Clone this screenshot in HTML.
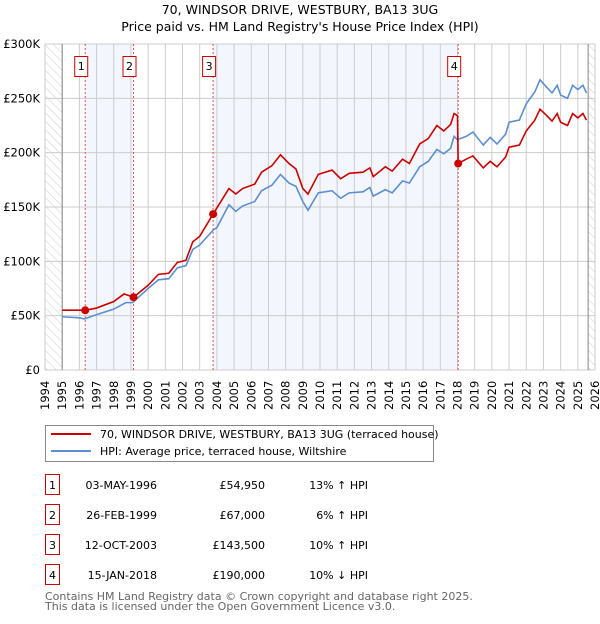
<!DOCTYPE html>
<html><head><meta charset="utf-8"><style>
body{margin:0;background:#fff;font-family:"DejaVu Sans","Liberation Sans",sans-serif;}
svg text{font-family:"DejaVu Sans","Liberation Sans",sans-serif;}
</style></head><body>
<svg id="chart" width="600" height="620" viewBox="0 0 600 620" xmlns="http://www.w3.org/2000/svg">
<defs><pattern id="hatch" width="6" height="6" patternUnits="userSpaceOnUse" patternTransform="rotate(-45)"><line x1="0" y1="0" x2="0" y2="6" stroke="#ccc" stroke-width="1"/></pattern></defs>
<text x="300" y="14" text-anchor="middle" font-size="12.5">70, WINDSOR DRIVE, WESTBURY, BA13 3UG</text>
<text x="300" y="31" text-anchor="middle" font-size="12.5">Price paid vs. HM Land Registry's House Price Index (HPI)</text>
<g id="plot"></g>
<g>
<rect x="45.5" y="425.5" width="388" height="36" fill="#fff" stroke="#888"/>
<line x1="51" y1="434" x2="91" y2="434" stroke="#cc0000" stroke-width="2"/>
<text x="100" y="438" font-size="11">70, WINDSOR DRIVE, WESTBURY, BA13 3UG (terraced house)</text>
<line x1="51" y1="451" x2="91" y2="451" stroke="#5b8fd0" stroke-width="2"/>
<text x="100" y="455" font-size="11">HPI: Average price, terraced house, Wiltshire</text>
</g>
<g id="table"></g>
<text x="45" y="600" font-size="11" fill="#666">Contains HM Land Registry data © Crown copyright and database right 2025.</text>
<text x="45" y="610" font-size="11" fill="#666">This data is licensed under the Open Government Licence v3.0.</text>
</svg>
<script>
const hpiYears=[1995,1996,1996.3,1997,1998,1998.7,1999.1,2000,2000.6,2001.2,2001.7,2002.2,2002.6,2003,2003.8,2004,2004.7,2005.1,2005.5,2006.2,2006.6,2007.2,2007.7,2008.2,2008.6,2009,2009.3,2009.9,2010.7,2011.2,2011.7,2012.5,2012.9,2013.1,2013.8,2014.2,2014.8,2015.2,2015.8,2016.3,2016.8,2017.2,2017.6,2017.8,2018,2018.5,2018.9,2019.5,2019.9,2020.3,2020.8,2021,2021.6,2022,2022.5,2022.8,2023.2,2023.5,2023.8,2024,2024.4,2024.7,2025,2025.3,2025.5];
const hpiValues=[49,48,47,51,56,62,62,75,83,84,94,96,111,115,129,131,152,146,151,155,165,170,180,172,169,155,147,163,165,158,163,164,168,160,166,163,174,172,187,192,203,199,204,215,212,215,219,207,214,208,217,228,230,245,256,267,260,255,262,253,250,262,258,262,255];
const priceYears=[1995,1996,1996.34,1997,1998,1998.6,1999.15,2000,2000.6,2001.2,2001.7,2002.2,2002.6,2003,2003.78,2004.7,2005.1,2005.5,2006.2,2006.6,2007.2,2007.7,2008.2,2008.6,2009,2009.3,2009.9,2010.7,2011.2,2011.7,2012.5,2012.9,2013.1,2013.8,2014.2,2014.8,2015.2,2015.8,2016.3,2016.8,2017.2,2017.6,2017.8,2018,2018.04,2018.5,2018.9,2019.5,2019.9,2020.3,2020.8,2021,2021.6,2022,2022.5,2022.8,2023.2,2023.5,2023.8,2024,2024.4,2024.7,2025,2025.3,2025.5];
const priceValues=[55,55,54.95,57,63,70,67,78,88,89,99,101,118,123,143.5,167,162,167,171,182,188,198,190,185,167,162,180,184,176,181,182,186,178,187,183,194,190,208,213,225,220,226,236,234,190,194,197,186,192,187,196,205,207,220,230,240,234,229,236,228,225,236,232,236,230];
const saleLabels=["1","2","3","4"];
const saleYears=[1996.34,1999.15,2003.78,2018.04];
const salePrices=[54.95,67,143.5,190];
const saleDates=["03-MAY-1996","26-FEB-1999","12-OCT-2003","15-JAN-2018"];
const salePriceText=["£54,950","£67,000","£143,500","£190,000"];
const saleHpiText=["13% ↑ HPI","6% ↑ HPI","10% ↑ HPI","10% ↓ HPI"];
const yTicks=[0,50,100,150,200,250,300];
const yTickLabels=["£0","£50K","£100K","£150K","£200K","£250K","£300K"];
const xTicks=[1994,1995,1996,1997,1998,1999,2000,2001,2002,2003,2004,2005,2006,2007,2008,2009,2010,2011,2012,2013,2014,2015,2016,2017,2018,2019,2020,2021,2022,2023,2024,2025,2026];
const L=45,R=595,T=44,B=370;
const x=v=>L+(v-1994)*(R-L)/32;
const y=v=>B-v*(B-T)/300;
const NS="http://www.w3.org/2000/svg";
const plot=document.getElementById('plot');
function mk(tag,attrs,parent){const e=document.createElementNS(NS,tag);for(const k in attrs)e.setAttribute(k,attrs[k]);(parent||plot).appendChild(e);return e;}
let e;
e=mk('rect',{x:L,y:T,width:R-L,height:B-T,fill:'#fff'});


e=mk('rect',{x:x(saleYears[0]),y:T,width:x(saleYears[1])-x(saleYears[0]),height:B-T,fill:'#f3f6fd'});


e=mk('rect',{x:x(saleYears[2]),y:T,width:x(saleYears[3])-x(saleYears[2]),height:B-T,fill:'#f3f6fd'});


e=mk('rect',{x:L,y:T,width:x(1995)-L,height:B-T,fill:'url(#hatch)'});


e=mk('rect',{x:x(2025.6),y:T,width:R-x(2025.6),height:B-T,fill:'url(#hatch)'});


xTicks.forEach(t=>{
  e=mk('line',{x1:x(t),x2:x(t),y1:T,y2:B,stroke:'#ccc','stroke-width':1});
  
  
  e=mk('text',{x:0,y:0,transform:`translate(${x(t)+4},${B+40}) rotate(-90)`,'font-size':11.5});
  e.textContent=t;
  
  
});
yTicks.forEach((t,i)=>{
  e=mk('line',{x1:L,x2:R,y1:y(t),y2:y(t),stroke:'#ccc','stroke-width':1});
  
  
  e=mk('text',{x:L-5,y:y(t)+4,'text-anchor':'end','font-size':11.5});
  e.textContent=yTickLabels[i];
  
  
});
e=mk('line',{x1:x(1995),x2:x(1995),y1:T,y2:B,stroke:'#888'});


e=mk('line',{x1:x(2025.6),x2:x(2025.6),y1:T,y2:B,stroke:'#888'});


saleYears.forEach((s,i)=>{
  e=mk('line',{x1:x(s),x2:x(s),y1:T,y2:B,stroke:'#e05050','stroke-dasharray':'2,2','stroke-width':1});
  
  
  e=mk('rect',{x:x(s)-10.5,y:56.5,width:13,height:20,fill:'#fff',stroke:'#cc0000'});
  
  
  e=mk('text',{x:x(s)-4,y:70,'text-anchor':'middle','font-size':11});
  e.textContent=saleLabels[i];
  
  
});
e=mk('polyline',{points:hpiYears.map((v,i)=>x(v)+','+y(hpiValues[i])).join(' '),fill:'none',stroke:'#5b8fd0','stroke-width':1.6});


e=mk('polyline',{points:priceYears.map((v,i)=>x(v)+','+y(priceValues[i])).join(' '),fill:'none',stroke:'#cc0000','stroke-width':1.6});


saleYears.forEach((s,i)=>{
  e=mk('circle',{cx:x(s),cy:y(salePrices[i]),r:4,fill:'#cc0000'});
  
  
});
const tbl=document.getElementById('table');
saleLabels.forEach((l,i)=>{
  const yy=487+i*30;
  e=mk('rect',{x:45.5,y:yy-12.5,width:14,height:20,fill:'#fff',stroke:'#cc0000'},tbl);
  
  
  e=mk('text',{x:52.5,y:yy+2,'text-anchor':'middle','font-size':11},tbl);e.textContent=l;
  
  
  e=mk('text',{x:157,y:yy+2,'text-anchor':'end','font-size':11},tbl);e.textContent=saleDates[i];
  
  
  e=mk('text',{x:265,y:yy+2,'text-anchor':'end','font-size':11},tbl);e.textContent=salePriceText[i];
  
  
  e=mk('text',{x:368,y:yy+2,'text-anchor':'end','font-size':11},tbl);e.textContent=saleHpiText[i];
  
  
});
</script>
</body></html>
